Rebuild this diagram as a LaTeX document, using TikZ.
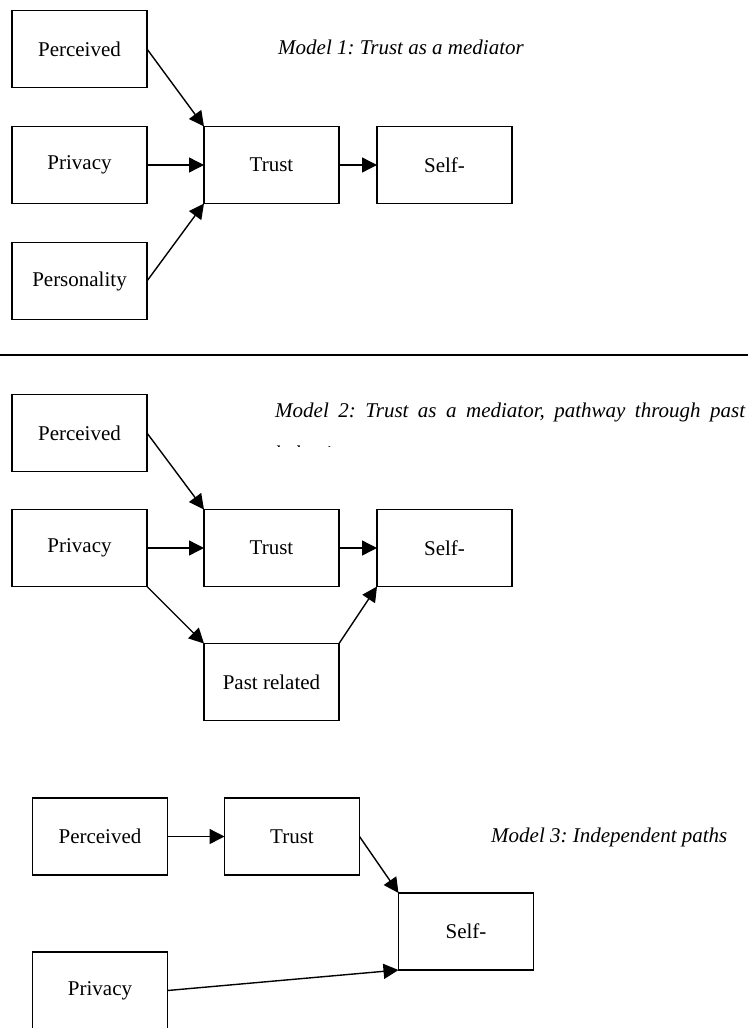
\documentclass[tikz,border=0pt]{standalone}
\usepackage{fontspec}
\setmainfont{Liberation Serif}
\usetikzlibrary{arrows.meta, positioning}
\frenchspacing

\begin{document}
\begin{tikzpicture}[x=1pt, y=1pt]
\tikzset{box/.style={rectangle, draw, line width=1.4pt, minimum width=135pt, minimum height=77pt, inner sep=0pt, outer sep=0pt, font=\fontsize{21}{25}\selectfont},
		caption/.style={anchor=base west, inner sep=0pt, font=\fontsize{21}{25}\selectfont\itshape},
		link/.style={-{Triangle[length=15pt, width=15pt]}, line width=1.4pt}}
\useasboundingbox (0,0) rectangle (748,-1028);
% Model 1
\node[box] (Per1) at (79.5,-49) {Perceived};
\node[box, below=39pt of Per1] (Pri1) {Privacy};
\node[box, below=39pt of Pri1] (Pers1) {Personality};
\node[box, right=57pt of Pri1] (Tru1) {Trust};
\node[box, right=38pt of Tru1] (Sel1) {Self-};
\node[caption] (Cap1) at (278,-54) {Model 1: Trust as a mediator};
\draw[link] (Per1.east) -- (Tru1.north west);
\draw[link] (Pri1) -- (Tru1);
\draw[link] (Pers1.east) -- (Tru1.south west);
\draw[link] (Tru1) -- (Sel1);
\draw[line width=1.4pt] (0,-355) -- (748,-355);
% Model 2
\node[box] (Per2) at (79.5,-433) {Perceived};
\node[box, below=38pt of Per2] (Pri2) {Privacy};
\node[box, right=57pt of Pri2] (Tru2) {Trust};
\node[box, right=38pt of Tru2] (Sel2) {Self-};
\node[box, below=57pt of Tru2] (Past2) {Past related};
\node[caption] (Cap2) at (275,-417) {\makebox[470pt][s]{Model 2: Trust as a mediator, pathway through past}};
\begin{scope}
\clip (270,-395) rectangle (748,-446);
\node[caption] (Cap2b) at (275,-460) {behaviour};
\end{scope}
\draw[link] (Per2.east) -- (Tru2.north west);
\draw[link] (Pri2) -- (Tru2);
\draw[link] (Tru2) -- (Sel2);
\draw[link] (Pri2.south east) -- (Past2.north west);
\draw[link] (Past2.north east) -- (Sel2.south west);
% Model 3
\node[box] (Per3) at (100,-836.5) {Perceived};
\node[box, right=57pt of Per3] (Tru3) {Trust};
\node[box, below right=18pt and 39pt of Tru3] (Sel3) {Self-};
\node[box, below=77pt of Per3] (Pri3) {Privacy};
\node[caption] (Cap3) at (491,-842) {Model 3: Independent paths};
\draw[link] (Per3) -- (Tru3);
\draw[link] (Tru3.east) -- (Sel3.north west);
\draw[link] (Pri3.east) -- (Sel3.south west);
\end{tikzpicture}
\end{document}
